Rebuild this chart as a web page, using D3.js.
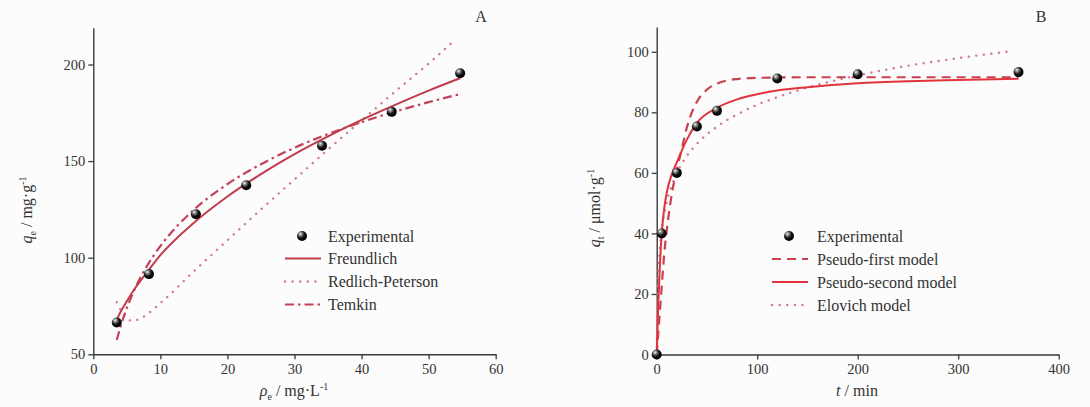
<!DOCTYPE html>
<html>
<head>
<meta charset="utf-8">
<script src="https://cdn.jsdelivr.net/npm/d3@7"></script>
<style>
  body { margin: 0; background: #fcfcfc; }
  svg { display: block; font-family: "Liberation Serif", "Times New Roman", serif; }
</style>
</head>
<body>
<div class="chart"></div>
<script>
var width = 1090;
var height = 407;

// panel A : isotherms
var isoX = [3.5, 8.3, 15.3, 22.8, 34.1, 44.5, 54.7];
var isoY = [66.5, 91.5, 122.5, 137.5, 158, 175.5, 195.5];

var freundlichX = [3.5, 4, 5, 6, 8, 10, 15, 20, 25, 30, 35, 40, 45, 50, 54.7];
var freundlichY = [68, 71.5, 77.5, 83, 92.4, 101.3, 118.1, 131.7, 143.3, 153.6, 162.8, 171.3, 179.1, 186.5, 192.9];

var redlichX = [3.5, 4.5, 5.8, 7, 10, 15, 20, 25, 30, 35, 40, 45, 50, 54];
var redlichY = [77, 70.5, 67.3, 68.5, 76.5, 93, 109, 125, 140.5, 156, 171, 186, 200.5, 213];

var temkinX = [3.5, 4, 5, 6, 8, 10, 15, 20, 25, 30, 35, 40, 45, 50, 54.7];
var temkinY = [57.4, 63.6, 73.9, 82.4, 95.7, 106, 124.8, 138.1, 148.4, 156.9, 164, 170.2, 175.6, 180.5, 184.7];

var isoXTicks = [0, 10, 20, 30, 40, 50, 60];
var isoYTicks = [50, 100, 150, 200];
var isoLegend = ["Experimental", "Freundlich", "Redlich-Peterson", "Temkin"];

// panel B : kinetics
var kinX = [0, 5, 20, 40, 60, 120, 200, 360];
var kinY = [0, 40, 60, 75.3, 80.5, 91.2, 92.6, 93.3];

var firstX = [0, 2, 4, 6, 8, 10, 15, 20, 25, 30, 35, 40, 50, 60, 80, 100, 150, 200, 300, 360];
var firstY = [0, 9, 18, 27, 35, 41, 53, 61, 68, 75, 80, 83.5, 87.5, 89.5, 91, 91.4, 91.6, 91.6, 91.6, 91.6];

var secondX = [0, 0.5, 1, 2, 3, 5, 8, 10, 15, 20, 30, 40, 60, 80, 100, 120, 150, 200, 250, 300, 360];
var secondY = [0, 5, 11, 20, 28, 40, 49.5, 53.5, 59.5, 63.5, 71, 76.5, 81.5, 84.3, 86, 87.2, 88.3, 89.6, 90.3, 90.7, 91.1];

var elovichX = [0, 0.5, 1, 2, 3, 5, 8, 10, 15, 20, 30, 40, 60, 80, 100, 120, 150, 200, 250, 300, 355];
var elovichY = [0, 14.2, 21.1, 29.2, 34.3, 41, 47.3, 50.4, 55.9, 59.9, 65.6, 69.6, 75.3, 79.3, 82.5, 85, 88.2, 92.2, 95.4, 97.9, 100.3];

var kinXTicks = [0, 100, 200, 300, 400];
var kinYTicks = [0, 20, 40, 60, 80, 100];
var kinLegend = ["Experimental", "Pseudo-first model", "Pseudo-second model", "Elovich model"];

var svg = d3.select(".chart").append("svg")
    .attr("width", width)
    .attr("height", height);

var defs = svg.append("defs");
var grad = defs.append("radialGradient")
    .attr("id", "ball")
    .attr("cx", "40%").attr("cy", "35%").attr("r", "65%")
    .attr("fx", "32%").attr("fy", "28%");
grad.append("stop").attr("offset", "0%").attr("stop-color", "#ffffff");
grad.append("stop").attr("offset", "25%").attr("stop-color", "#8a8a8a");
grad.append("stop").attr("offset", "60%").attr("stop-color", "#111");
grad.append("stop").attr("offset", "100%").attr("stop-color", "#000");

function zip(xs, ys) {
  return xs.map(function(d, i) { return [d, ys[i]]; });
}

function drawAxes(g, x, y, xTicks, yTicks) {
  var xa = g.append("g")
      .attr("transform", "translate(0," + y.range()[0] + ")")
      .call(d3.axisBottom(x).tickValues(xTicks).tickSize(5).tickPadding(4).tickSizeOuter(0));
  var ya = g.append("g")
      .attr("transform", "translate(" + x.range()[0] + ",0)")
      .call(d3.axisLeft(y).tickValues(yTicks).tickSize(5).tickPadding(3).tickSizeOuter(0));
  [xa, ya].forEach(function(a) {
    a.select(".domain").attr("stroke", "#3a3a3a").attr("stroke-width", 1.4);
    a.selectAll(".tick line").attr("stroke", "#3a3a3a").attr("stroke-width", 1.3);
    a.selectAll(".tick text")
        .attr("fill", "#333")
        .style("font-family", "'Liberation Serif', serif")
        .style("font-size", "14.5px");
  });
}

function drawLine(g, x, y, pts, style) {
  var line = d3.line()
      .x(function(d) { return x(d[0]); })
      .y(function(d) { return y(d[1]); })
      .curve(d3.curveMonotoneX);
  g.append("path")
      .datum(pts)
      .attr("d", line)
      .attr("fill", "none")
      .attr("stroke", style.color)
      .attr("stroke-width", style.width)
      .attr("stroke-dasharray", style.dash)
      .attr("stroke-linecap", style.cap || "butt");
}

function drawPoints(g, x, y, pts) {
  g.selectAll(".pt")
      .data(pts)
      .enter().append("circle")
      .attr("class", "pt")
      .attr("cx", function(d) { return x(d[0]); })
      .attr("cy", function(d) { return y(d[1]); })
      .attr("r", 5)
      .attr("fill", "url(#ball)");
}

function drawLegend(g, lx, tx, ys, labels, styles) {
  labels.forEach(function(lab, i) {
    if (i === 0) {
      g.append("circle").attr("cx", lx + 17).attr("cy", ys[i]).attr("r", 5).attr("fill", "url(#ball)");
    } else {
      var s = styles[i - 1];
      g.append("line")
          .attr("x1", lx).attr("x2", lx + 36)
          .attr("y1", ys[i]).attr("y2", ys[i])
          .attr("stroke", s.color)
          .attr("stroke-width", s.width)
          .attr("stroke-dasharray", s.dash)
          .attr("stroke-linecap", s.cap || "butt");
    }
    g.append("text")
        .attr("x", tx).attr("y", ys[i])
        .attr("dy", "0.35em")
        .attr("fill", "#333")
        .style("font-size", "16px")
        .text(lab);
  });
}

// ---------- panel A ----------
var xA = d3.scaleLinear().domain([0, 60]).range([93.3, 495.7]);
var yA = d3.scaleLinear().domain([50, 219]).range([354.3, 27.8]);
var gA = svg.append("g");

drawAxes(gA, xA, yA, isoXTicks, isoYTicks);

var stylesA = [
  {color: "#c23b4c", width: 2, dash: null},
  {color: "#d47a90", width: 2.4, dash: "0.1,7.5", cap: "round"},
  {color: "#c4415a", width: 2.2, dash: "9,4,2.5,4"}
];
drawLine(gA, xA, yA, zip(redlichX, redlichY), stylesA[1]);
drawLine(gA, xA, yA, zip(temkinX, temkinY), stylesA[2]);
drawLine(gA, xA, yA, zip(freundlichX, freundlichY), stylesA[0]);
drawPoints(gA, xA, yA, zip(isoX, isoY));
drawLegend(gA, 285, 328, [236, 258.5, 281.5, 304.5], isoLegend, stylesA);

gA.append("text").attr("x", 481).attr("y", 22).attr("text-anchor", "middle")
    .attr("fill", "#333").style("font-size", "16px").text("A");

var tA = gA.append("text").attr("x", 294).attr("y", 396).attr("text-anchor", "middle")
    .attr("fill", "#333").style("font-size", "16px");
tA.append("tspan").style("font-style", "italic").text("ρ");
tA.append("tspan").attr("dy", 4).style("font-size", "10px").text("e");
tA.append("tspan").attr("dy", -4).text(" / mg·L");
tA.append("tspan").attr("dy", -6).style("font-size", "10px").text("-1");

var yTA = gA.append("text").attr("transform", "translate(32,210) rotate(-90)")
    .attr("text-anchor", "middle").attr("fill", "#333").style("font-size", "16px");
yTA.append("tspan").style("font-style", "italic").text("q");
yTA.append("tspan").attr("dy", 4).style("font-size", "10px").text("e");
yTA.append("tspan").attr("dy", -4).text(" / mg·g");
yTA.append("tspan").attr("dy", -6).style("font-size", "10px").text("-1");

// ---------- panel B ----------
var xB = d3.scaleLinear().domain([0, 400]).range([656.7, 1058.7]);
var yB = d3.scaleLinear().domain([0, 108.2]).range([354.5, 27]);
var gB = svg.append("g");

drawAxes(gB, xB, yB, kinXTicks, kinYTicks);

var stylesB = [
  {color: "#c9404f", width: 2.2, dash: "9,6"},
  {color: "#e2323c", width: 2, dash: null},
  {color: "#d47a90", width: 2.4, dash: "0.1,7.5", cap: "round"}
];
drawLine(gB, xB, yB, zip(elovichX, elovichY), stylesB[2]);
drawLine(gB, xB, yB, zip(firstX, firstY), stylesB[0]);
drawLine(gB, xB, yB, zip(secondX, secondY), stylesB[1]);
drawPoints(gB, xB, yB, zip(kinX, kinY));
drawLegend(gB, 772, 817, [236, 259, 282, 305], kinLegend, stylesB);

gB.append("text").attr("x", 1041).attr("y", 22).attr("text-anchor", "middle")
    .attr("fill", "#333").style("font-size", "16px").text("B");

var tB = gB.append("text").attr("x", 857).attr("y", 396).attr("text-anchor", "middle")
    .attr("fill", "#333").style("font-size", "16px");
tB.append("tspan").style("font-style", "italic").text("t");
tB.append("tspan").text(" / min");

var yTB = gB.append("text").attr("transform", "translate(600,208) rotate(-90)")
    .attr("text-anchor", "middle").attr("fill", "#333").style("font-size", "16px");
yTB.append("tspan").style("font-style", "italic").text("q");
yTB.append("tspan").attr("dy", 4).style("font-size", "10px").text("t");
yTB.append("tspan").attr("dy", -4).text(" / μmol·g");
yTB.append("tspan").attr("dy", -6).style("font-size", "10px").text("-1");
</script>
</body>
</html>
